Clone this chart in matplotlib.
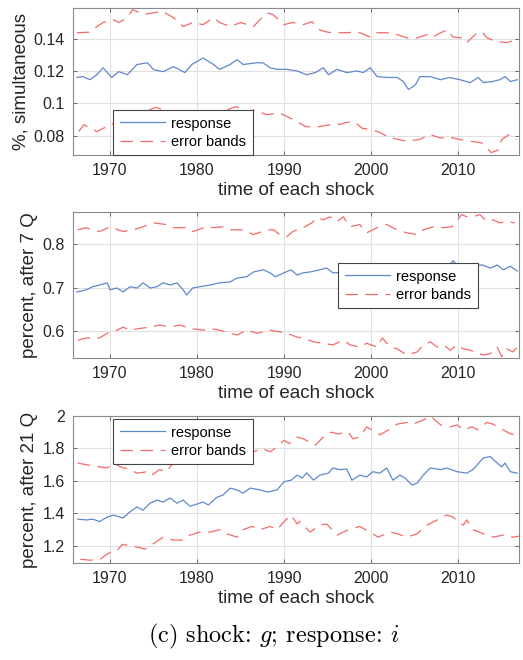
import matplotlib.pyplot as plt
from matplotlib.ticker import FormatStrFormatter

plt.rcParams['font.family'] = ['Liberation Sans', 'DejaVu Sans']
plt.rcParams['mathtext.fontset'] = 'cm'

# ---- panel 1: %, simultaneous ----
p1_resp_t = [1966.2, 1966.9, 1967.7, 1968.5, 1969.2, 1970.2, 1971.0, 1972.0, 1973.1, 1974.3,
             1975.0, 1976.1, 1977.3, 1978.6, 1979.4, 1980.7, 1981.9, 1982.6, 1983.8, 1984.6,
             1985.3, 1986.9, 1987.6, 1988.4, 1989.2, 1990.3, 1991.5, 1992.6, 1993.6, 1994.5,
             1995.1, 1996.1, 1997.2, 1998.4, 1999.1, 1999.9, 2000.7, 2001.8, 2003.0, 2003.7,
             2004.3, 2005.1, 2005.6, 2006.8, 2008.0, 2009.0, 2010.2, 2011.4, 2012.3, 2012.9,
             2014.0, 2014.8, 2015.4, 2016.0, 2016.8]
p1_resp_v = [0.116, 0.1165, 0.1146, 0.1177, 0.122, 0.116, 0.1196, 0.1177, 0.124, 0.1251,
             0.1208, 0.1196, 0.1227, 0.119, 0.124, 0.128, 0.124, 0.121, 0.124, 0.127,
             0.124, 0.1251, 0.125, 0.122, 0.121, 0.121, 0.120, 0.1177, 0.119, 0.122,
             0.1177, 0.121, 0.119, 0.120, 0.119, 0.122, 0.1165, 0.116, 0.116, 0.1135,
             0.1085, 0.1115, 0.1165, 0.1165, 0.1146, 0.116, 0.1146, 0.1128, 0.116, 0.1128,
             0.1135, 0.1146, 0.1165, 0.1135, 0.1146]

p1_up_t = [1966.2, 1967.7, 1968.5, 1969.2, 1970.3, 1971.0, 1972.0, 1972.6, 1973.8, 1975.0,
           1976.0, 1977.3, 1978.4, 1979.5, 1980.7, 1981.9, 1982.6, 1983.8, 1985.0, 1986.5,
           1987.0, 1988.0, 1988.7, 1990.0, 1991.0, 1992.2, 1993.2, 1994.1, 1995.0, 1996.1,
           1997.2, 1997.9, 1998.7, 1999.9, 2000.7, 2001.8, 2003.0, 2004.1, 2005.3, 2006.4,
           2007.1, 2008.0, 2008.8, 2009.4, 2010.4, 2011.0, 2012.2, 2012.8, 2013.3, 2014.0,
           2014.8, 2015.6, 2016.5]
p1_up_v = [0.1437, 0.144, 0.1475, 0.150, 0.152, 0.150, 0.153, 0.158, 0.155, 0.156,
           0.157, 0.153, 0.1475, 0.150, 0.1487, 0.153, 0.150, 0.1475, 0.150, 0.1475,
           0.1505, 0.156, 0.155, 0.1487, 0.150, 0.1487, 0.1505, 0.1455, 0.144, 0.1437,
           0.1437, 0.144, 0.1437, 0.141, 0.1437, 0.1437, 0.1425, 0.1405, 0.1405, 0.1425,
           0.141, 0.1437, 0.1455, 0.141, 0.1405, 0.1375, 0.1437, 0.144, 0.1405, 0.139,
           0.138, 0.1375, 0.139]

p1_lo_t = [1966.4, 1967.0, 1968.5, 1970.0, 1971.5, 1973.0, 1975.3, 1977.0, 1979.0, 1981.0,
           1983.0, 1984.5, 1986.0, 1986.5, 1988.0, 1989.5, 1991.0, 1992.5, 1994.0, 1995.3,
           1996.5, 1997.0, 1998.0, 1999.0, 2000.0, 2001.0, 2002.0, 2004.0, 2005.5, 2006.8,
           2008.0, 2009.0, 2010.3, 2011.5, 2012.7, 2013.8, 2014.6, 2015.0, 2015.8, 2016.7]
p1_lo_v = [0.0825, 0.0867, 0.0825, 0.0867, 0.090, 0.093, 0.0975, 0.094, 0.093, 0.094,
           0.095, 0.098, 0.093, 0.096, 0.093, 0.094, 0.090, 0.0855, 0.0855, 0.0867,
           0.087, 0.088, 0.0887, 0.0845, 0.0837, 0.082, 0.079, 0.0765, 0.0775, 0.0805,
           0.0785, 0.079, 0.0775, 0.0765, 0.0755, 0.0695, 0.071, 0.0775, 0.0805, 0.0775]

# ---- panel 2: percent, after 7 Q ----
p2_resp_t = [1966.2, 1967.3, 1968.0, 1968.8, 1969.7, 1970.0, 1970.8, 1971.5, 1972.3, 1973.1,
             1973.8, 1974.6, 1975.4, 1976.1, 1976.9, 1977.7, 1978.4, 1978.8, 1979.5, 1980.3,
             1981.5, 1982.6, 1983.8, 1984.6, 1985.7, 1986.5, 1987.6, 1988.4, 1989.0, 1990.0,
             1990.8, 1991.5, 1992.2, 1993.0, 1994.1, 1994.9, 1995.6, 1998.0, 2000.0, 2002.0,
             2004.0, 2006.0, 2008.0, 2009.0, 2009.4, 2010.0, 2012.8, 2013.7, 2014.5, 2015.2,
             2016.0, 2016.8]
p2_resp_v = [0.690, 0.695, 0.702, 0.706, 0.711, 0.695, 0.699, 0.690, 0.702, 0.699,
             0.711, 0.699, 0.702, 0.711, 0.706, 0.711, 0.695, 0.683, 0.699, 0.702,
             0.706, 0.711, 0.713, 0.722, 0.725, 0.736, 0.741, 0.734, 0.725, 0.734,
             0.741, 0.729, 0.734, 0.736, 0.741, 0.745, 0.734, 0.735, 0.740, 0.735,
             0.740, 0.745, 0.745, 0.750, 0.762, 0.750, 0.752, 0.745, 0.752, 0.741,
             0.749, 0.738]

p2_up_t = [1966.3, 1967.3, 1967.9, 1968.8, 1970.0, 1971.5, 1972.7, 1973.8, 1975.0, 1976.5,
           1977.3, 1978.8, 1979.5, 1981.1, 1981.9, 1983.0, 1983.8, 1985.3, 1986.5, 1988.1,
           1988.8, 1989.5, 1990.3, 1991.0, 1992.2, 1993.2, 1993.8, 1994.5, 1995.3, 1996.1,
           1996.8, 1997.6, 1998.7, 1999.5, 2000.7, 2001.8, 2003.0, 2004.1, 2005.3, 2006.0,
           2007.1, 2008.3, 2009.3, 2009.8, 2010.4, 2011.0, 2011.7, 2012.5, 2013.3, 2014.0,
           2014.8, 2015.6, 2016.5]
p2_up_v = [0.833, 0.838, 0.833, 0.829, 0.840, 0.829, 0.833, 0.840, 0.849, 0.845,
           0.838, 0.838, 0.829, 0.840, 0.838, 0.840, 0.833, 0.833, 0.822, 0.833,
           0.833, 0.822, 0.817, 0.829, 0.838, 0.849, 0.861, 0.856, 0.863, 0.852,
           0.863, 0.840, 0.845, 0.826, 0.838, 0.845, 0.833, 0.826, 0.822, 0.833,
           0.840, 0.838, 0.840, 0.852, 0.868, 0.863, 0.863, 0.868, 0.852, 0.856,
           0.849, 0.852, 0.849]

p2_lo_t = [1966.3, 1967.3, 1968.8, 1969.7, 1970.4, 1971.5, 1972.3, 1973.4, 1974.6, 1975.7,
           1976.9, 1978.0, 1979.2, 1980.7, 1981.5, 1982.6, 1983.8, 1984.6, 1985.7, 1986.9,
           1988.4, 1989.5, 1990.3, 1991.5, 1992.2, 1993.4, 1994.5, 1995.6, 1996.8, 1997.6,
           1998.7, 1999.5, 2000.7, 2001.3, 2002.2, 2003.0, 2004.1, 2005.3, 2006.0, 2006.8,
           2007.6, 2008.3, 2009.1, 2009.9, 2010.6, 2011.4, 2012.2, 2012.9, 2013.7, 2014.5,
           2015.0, 2015.6, 2016.3, 2016.8]
p2_lo_v = [0.579, 0.584, 0.584, 0.595, 0.598, 0.609, 0.602, 0.606, 0.609, 0.614,
           0.609, 0.614, 0.606, 0.602, 0.606, 0.602, 0.595, 0.591, 0.602, 0.595,
           0.602, 0.598, 0.595, 0.586, 0.584, 0.575, 0.572, 0.568, 0.579, 0.568,
           0.563, 0.572, 0.563, 0.584, 0.563, 0.559, 0.545, 0.552, 0.568, 0.575,
           0.563, 0.568, 0.556, 0.568, 0.559, 0.556, 0.548, 0.545, 0.548, 0.563,
           0.541, 0.559, 0.552, 0.563]

# ---- panel 3: percent, after 21 Q ----
p3_resp_t = [1966.3, 1967.3, 1968.0, 1968.8, 1969.7, 1970.4, 1971.5, 1972.3, 1973.1, 1973.8,
             1974.6, 1975.4, 1976.1, 1976.9, 1977.7, 1978.4, 1979.2, 1980.0, 1980.7, 1981.3,
             1982.3, 1983.0, 1983.8, 1984.6, 1985.3, 1986.1, 1987.2, 1988.1, 1989.2, 1990.0,
             1990.8, 1991.5, 1992.1, 1992.6, 1993.4, 1994.1, 1995.1, 1995.6, 1996.4, 1997.2,
             1997.8, 1998.7, 1999.5, 2000.2, 2001.0, 2001.8, 2002.5, 2003.3, 2003.9, 2004.7,
             2005.3, 2006.0, 2006.8, 2008.0, 2008.7, 2009.9, 2011.0, 2011.7, 2012.9, 2013.7,
             2014.5, 2015.0, 2015.4, 2016.0, 2016.8]
p3_resp_v = [1.365, 1.36, 1.365, 1.35, 1.378, 1.39, 1.372, 1.41, 1.44, 1.42,
             1.463, 1.482, 1.47, 1.495, 1.463, 1.482, 1.445, 1.458, 1.47, 1.452,
             1.50, 1.514, 1.556, 1.545, 1.525, 1.556, 1.545, 1.532, 1.545, 1.595,
             1.605, 1.636, 1.618, 1.65, 1.605, 1.636, 1.648, 1.68, 1.67, 1.673,
             1.605, 1.636, 1.625, 1.657, 1.648, 1.68, 1.605, 1.636, 1.618, 1.575,
             1.587, 1.636, 1.68, 1.67, 1.68, 1.657, 1.648, 1.67, 1.742, 1.75,
             1.71, 1.687, 1.71, 1.657, 1.648]

p3_up_t = [1966.3, 1967.3, 1968.0, 1968.8, 1969.7, 1970.4, 1971.2, 1972.3, 1973.1, 1974.3,
           1974.8, 1975.7, 1976.5, 1977.1, 1978.8, 1981.5, 1984.0, 1986.0, 1987.5, 1988.4,
           1989.2, 1990.0, 1990.6, 1991.5, 1992.2, 1993.6, 1994.5, 1995.4, 1996.2, 1997.4,
           1997.9, 1998.7, 1999.5, 2000.5, 2001.0, 2002.2, 2003.0, 2004.1, 2004.8, 2006.0,
           2006.8, 2008.0, 2009.1, 2009.9, 2010.6, 2011.6, 2012.2, 2013.3, 2014.0, 2015.0,
           2016.0, 2016.8]
p3_up_v = [1.71, 1.70, 1.693, 1.687, 1.68, 1.71, 1.687, 1.67, 1.648, 1.657,
           1.636, 1.67, 1.657, 1.70, 1.717, 1.717, 1.74, 1.77, 1.80, 1.78,
           1.81, 1.85, 1.83, 1.87, 1.86, 1.82, 1.87, 1.90, 1.89, 1.90,
           1.86, 1.87, 1.933, 1.90, 1.884, 1.92, 1.95, 1.96, 1.95, 1.975,
           2.0, 1.945, 1.933, 1.945, 1.915, 1.933, 1.915, 1.96, 1.95, 1.92,
           1.89, 1.884]

p3_lo_t = [1966.6, 1967.7, 1968.9, 1969.4, 1970.0, 1970.8, 1971.4, 1972.5, 1973.4, 1974.0,
           1974.6, 1976.1, 1977.3, 1978.4, 1979.2, 1980.3, 1981.5, 1982.6, 1983.4, 1984.6,
           1985.3, 1986.3, 1987.2, 1988.4, 1989.2, 1990.0, 1990.8, 1991.5, 1991.8, 1993.0,
           1994.1, 1994.9, 1996.1, 1997.4, 1998.7, 2000.2, 2000.8, 2002.2, 2003.0, 2004.1,
           2005.3, 2006.4, 2007.6, 2008.7, 2009.4, 2010.6, 2011.0, 2011.7, 2012.9, 2014.0,
           2015.2, 2016.3, 2017.0]
p3_lo_v = [1.118, 1.112, 1.118, 1.14, 1.16, 1.17, 1.21, 1.20, 1.19, 1.18,
           1.20, 1.254, 1.236, 1.236, 1.267, 1.285, 1.285, 1.30, 1.275, 1.254,
           1.30, 1.32, 1.30, 1.32, 1.30, 1.35, 1.39, 1.335, 1.35, 1.285,
           1.328, 1.335, 1.267, 1.30, 1.32, 1.275, 1.254, 1.285, 1.275, 1.254,
           1.275, 1.328, 1.36, 1.39, 1.378, 1.328, 1.36, 1.30, 1.275, 1.254,
           1.267, 1.254, 1.26]

ylabels = ['%, simultaneous', 'percent, after 7 Q', 'percent, after 21 Q']
yticks = [[0.08, 0.1, 0.12, 0.14], [0.6, 0.7, 0.8], [1.2, 1.4, 1.6, 1.8, 2.0]]
ylims = [(0.068, 0.159), (0.538, 0.874), (1.095, 2.0)]
xticks = [1970, 1980, 1990, 2000, 2010]

panels = [
    (p1_resp_t, p1_resp_v, p1_up_t, p1_up_v, p1_lo_t, p1_lo_v),
    (p2_resp_t, p2_resp_v, p2_up_t, p2_up_v, p2_lo_t, p2_lo_v),
    (p3_resp_t, p3_resp_v, p3_up_t, p3_up_v, p3_lo_t, p3_lo_v),
]

# axes boxes in figure fractions
boxes = [[0.1396, 0.7652, 0.8528, 0.2227],
         [0.1396, 0.4576, 0.8528, 0.2212],
         [0.1396, 0.1470, 0.8528, 0.2227]]
leg_anchor = [(0.0897, 0.306), (0.594, 0.651), (0.0897, 0.98)]

blue = '#5f88cc'
red = '#f36a6a'
dash = (0, (10, 6))

fig = plt.figure(figsize=(5.23, 6.6), dpi=100)

for i, (rt, rv, ut, uv, lt, lv) in enumerate(panels):
    ax = fig.add_axes(boxes[i])
    ax.plot(rt, rv, color=blue, lw=0.9, label='response')
    ax.plot(ut, uv, color=red, lw=0.9, linestyle=dash, label='error bands')
    ax.plot(lt, lv, color=red, lw=0.9, linestyle=dash)
    ax.set_xlim(1965.75, 2017.0)
    ax.set_ylim(*ylims[i])
    ax.set_xticks(xticks)
    ax.set_yticks(yticks[i])
    ax.yaxis.set_major_formatter(FormatStrFormatter('%g'))
    ax.grid(True, color='#e0e0e0', lw=0.8)
    ax.set_axisbelow(True)
    for s in ax.spines.values():
        s.set_color('#8a8a8a')
        s.set_linewidth(0.8)
    ax.tick_params(direction='in', top=True, right=True, length=3, width=0.6,
                   color='#555555', labelsize=11.5, labelcolor='#262626', pad=6)
    ax.set_xlabel('time of each shock', fontsize=13.5, color='#262626', labelpad=3)
    ax.set_ylabel(ylabels[i], fontsize=13.5, color='#262626', labelpad=3)
    leg = ax.legend(loc='upper left', bbox_to_anchor=leg_anchor[i], borderaxespad=0,
                    fontsize=10.5, frameon=True, fancybox=False, framealpha=1,
                    edgecolor='#444444', handlelength=3.1, borderpad=0.45,
                    labelspacing=0.3, handletextpad=0.45)
    leg.get_frame().set_linewidth(0.8)

fig.text(0.523, 0.035, '(c) shock: $g$; response: $i$', family='cmr10',
         ha='center', va='center', fontsize=17.5)

fig.savefig('out.png', dpi=100)
